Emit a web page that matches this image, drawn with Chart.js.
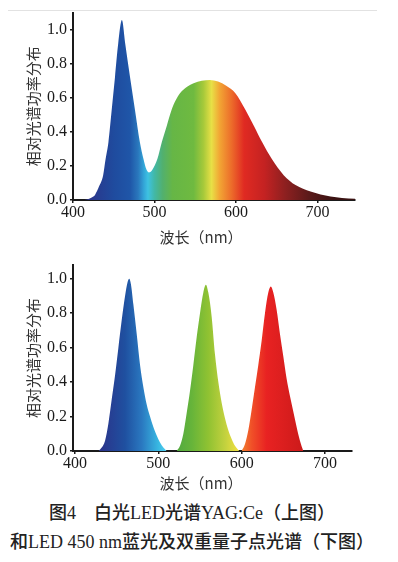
<!DOCTYPE html>
<html><head><meta charset="utf-8">
<script src="https://cdn.jsdelivr.net/npm/chart.js@4.4.1/dist/chart.umd.min.js"></script>
<style>
html,body{margin:0;padding:0;background:#fff;}
body{width:398px;height:562px;position:relative;overflow:hidden;}
#c1wrap{position:absolute;left:0;top:0;width:398px;height:250px;}
#c2wrap{position:absolute;left:0;top:250px;width:398px;height:250px;}
#topline{position:absolute;left:8px;top:10px;width:369px;height:1px;background:#e2e2e2;}
.cap{position:absolute;left:0;width:384px;text-align:center;font-family:"Liberation Serif","Noto Sans CJK SC",serif;font-size:18px;line-height:22px;font-weight:500;color:#222;white-space:nowrap;}
</style></head>
<body>
<div id="topline"></div>
<div id="c1wrap"><canvas id="c1"></canvas></div>
<div id="c2wrap"><canvas id="c2"></canvas></div>
<div class="cap" style="top:502px">图4　白光LED光谱YAG:Ce（上图）</div>
<div class="cap" style="top:531px">和LED 450 nm蓝光及双重量子点光谱（下图）</div>
<script>
// ---- data ----
const xTickValues = [400, 500, 600, 700];
const yTickValues = [0, 0.2, 0.4, 0.6, 0.8, 1.0];

// Top: white LED (blue chip + YAG:Ce phosphor)
const wavelengthTop = [400,410,418,423,427,432,437,440,443.5,447.5,451.5,455.5,460,464,470,476,482,486.5,490,493,497,503.5,509,515,521,526,531.5,540,548,558,568,578,588,599,611.5,622,632,644,658.5,673,691.5,716,730,746];
const powerTop      = [0,0,0.005,0.015,0.03,0.08,0.146,0.24,0.34,0.53,0.72,0.92,1.056,0.92,0.72,0.53,0.34,0.24,0.18,0.162,0.175,0.24,0.34,0.435,0.53,0.585,0.628,0.665,0.686,0.70,0.705,0.695,0.67,0.628,0.53,0.435,0.34,0.24,0.146,0.088,0.05,0.02,0.012,0.008];

// Bottom: 450 nm blue LED + dual quantum dots
const wavelengthBlue = [428,432,436,440,444,448,452,456,460,463,465,467,470,474,478,482,486,490,494,498,502,506,510];
const powerBlue      = [0,0.02,0.06,0.16,0.30,0.44,0.60,0.76,0.90,0.98,1.0,0.97,0.85,0.68,0.50,0.37,0.27,0.20,0.14,0.09,0.05,0.02,0];
const wavelengthGreen = [522,526,530,534,538,542,546,550,554,557,560,564,568,572,576,580,584,588,592,597];
const powerGreen      = [0,0.03,0.10,0.22,0.35,0.50,0.66,0.80,0.92,0.965,0.92,0.78,0.56,0.40,0.28,0.19,0.12,0.07,0.03,0];
const wavelengthRed = [600,604,608,612,616,620,624,628,632,635,638,642,646,650,654,658,662,666,670,674];
const powerRed      = [0,0.04,0.12,0.24,0.37,0.50,0.64,0.80,0.92,0.955,0.92,0.82,0.68,0.55,0.42,0.32,0.23,0.14,0.06,0];

// ---- styles ----
const topStops = [[420,'#2b358a'],[450,'#1f4b9e'],[470,'#1f56a8'],[480,'#2a78bd'],[487,'#33a6d8'],[492,'#3ec2e2'],[500,'#42b8a6'],[510,'#52b06e'],[522,'#66b646'],[548,'#6fba40'],[560,'#a6c93a'],[570,'#e8e046'],[580,'#f2a534'],[595,'#ec6a2a'],[610,'#e02a22'],[635,'#c42222'],[660,'#8e2020'],[690,'#5a1a1a'],[720,'#3a1212']];
const bottomStops = [[430,'#2b338a'],[460,'#1f50a0'],[480,'#2a78c0'],[500,'#38b8e2'],[510,'#54d0f0'],[516,'#ffffff'],[522,'#52aa40'],[540,'#66b43a'],[560,'#90c232'],[580,'#c2d13e'],[596,'#f0e040'],[598,'#ffffff'],[600,'#f08030'],[612,'#f05028'],[630,'#e82222'],[674,'#cc1a1a']];

function spectrumFill(stops){
  return function(ctx){
    const chart = ctx.chart, a = chart.chartArea;
    if (!a) return 'rgba(0,0,0,0)';
    const x = chart.scales.x, w = a.right - a.left;
    const g = chart.ctx.createLinearGradient(a.left, 0, a.right, 0);
    stops.forEach(([nm, col]) => {
      let t = (x.getPixelForValue(nm) - a.left) / w;
      g.addColorStop(Math.min(1, Math.max(0, t)), col);
    });
    return g;
  };
}
function pts(xs, ys){ return xs.map((v,i)=>({x:v, y:ys[i]})); }

const xTitlePlugin = {
  id: 'xTitle',
  afterDraw(chart, args, opts){
    const c = chart.ctx; c.save();
    c.font = '15px "Noto Sans CJK SC"'; c.fillStyle = '#333';
    c.textAlign = 'center'; c.textBaseline = 'middle';
    c.fillText(opts.text, opts.x, opts.y); c.restore();
  }
};

function makeOptions(cfg){
  return {
    responsive: true, maintainAspectRatio: false, animation: false,
    layout: { padding: { top: cfg.padTop, right: cfg.padRight, left: 0, bottom: 0 } },
    plugins: { legend: {display:false}, tooltip: {enabled:false}, xTitle: { text: '波长（nm）', x: cfg.titleX, y: cfg.titleY } },
    elements: { point: {radius:0}, line: {borderWidth:0, cubicInterpolationMode:'monotone'} },
    scales: {
      x: {
        type: 'linear', min: cfg.xmin, max: cfg.xmax,
        afterBuildTicks: s => { s.ticks = xTickValues.map(v => ({value:v})); },
        afterFit: s => { s.height = cfg.xAxisH; },
        grid: { display:true, drawOnChartArea:false, drawTicks:true, tickLength:3, color:'#1a1a1a', lineWidth:1.5 },
        border: { display:true, color:'#1a1a1a', width:2 },
        ticks: { padding:0, color:'#1a1a1a', font:{family:'Liberation Serif', size:16}, maxRotation:0, autoSkip:false, callback: v => String(v) }
      },
      y: {
        min: 0, max: cfg.ymax,
        afterBuildTicks: s => { s.ticks = yTickValues.map(v => ({value:v})); },
        afterFit: s => { s.width = 73; },
        grid: { display:true, drawOnChartArea:false, drawTicks:true, tickLength:3, color:'#1a1a1a', lineWidth:1.5 },
        border: { display:true, color:'#1a1a1a', width:2 },
        ticks: { padding:3, color:'#1a1a1a', font:{family:'Liberation Serif', size:16}, callback: v => Number(v).toFixed(1) },
        title: { display:true, text:'相对光谱功率分布', color:'#333', font:{family:'Noto Sans CJK SC', size:15}, padding:{top:24, bottom:0} }
      }
    }
  };
}

new Chart(document.getElementById('c1'), {
  type: 'line',
  data: { datasets: [ { data: pts(wavelengthTop, powerTop), fill:'origin', backgroundColor: spectrumFill(topStops), borderWidth:0 } ] },
  options: makeOptions({padTop:10, padRight:43, xmin:400, xmax:746, ymax:1.1, xAxisH:50, titleX:201, titleY:237}),
  plugins: [xTitlePlugin]
});

new Chart(document.getElementById('c2'), {
  type: 'line',
  data: { datasets: [
    { data: pts(wavelengthBlue, powerBlue), fill:'origin', backgroundColor: spectrumFill(bottomStops), borderWidth:0 },
    { data: pts(wavelengthGreen, powerGreen), fill:'origin', backgroundColor: spectrumFill(bottomStops), borderWidth:0 },
    { data: pts(wavelengthRed, powerRed), fill:'origin', backgroundColor: spectrumFill(bottomStops), borderWidth:0 }
  ] },
  options: makeOptions({padTop:15, padRight:46, xmin:397.5, xmax:732.5, ymax:1.08, xAxisH:49, titleX:201, titleY:233}),
  plugins: [xTitlePlugin]
});
</script>
</body></html>
